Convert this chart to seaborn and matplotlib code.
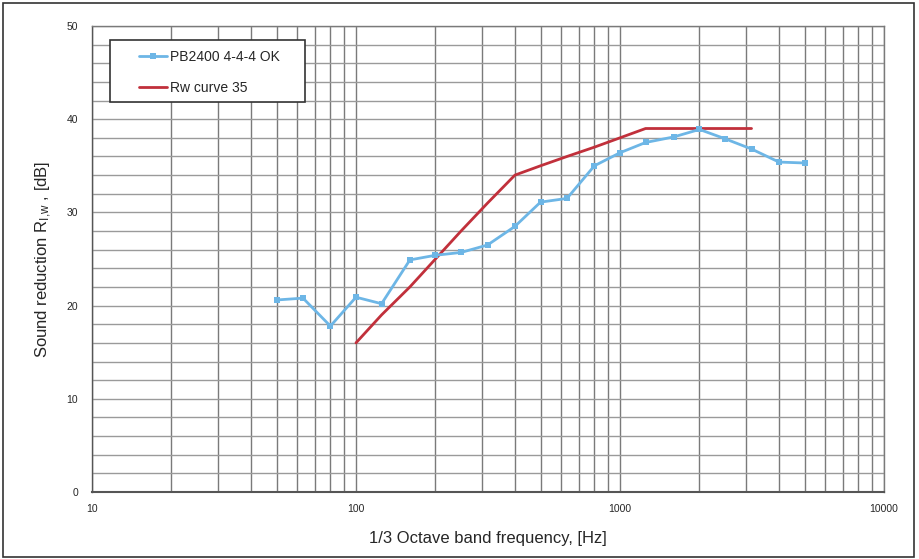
import numpy as np
import pandas as pd
import matplotlib
matplotlib.use('Agg')
import matplotlib.pyplot as plt
import seaborn as sns
from matplotlib.ticker import LogLocator, MultipleLocator, FixedLocator, FixedFormatter, NullFormatter
from matplotlib.patches import Rectangle

# measured 1/3 octave values
freq = [50, 63, 80, 100, 125, 160, 200, 250, 315, 400, 500, 630, 800,
        1000, 1250, 1600, 2000, 2500, 3150, 4000, 5000]
r_meas = [20.6, 20.8, 17.8, 20.9, 20.2, 24.9, 25.4, 25.7, 26.5, 28.5, 31.1, 31.5,
          35.0, 36.4, 37.5, 38.1, 38.9, 37.9, 36.8, 35.4, 35.3]

# reference curve shifted to Rw 35
ref_freq = [100, 125, 160, 200, 250, 315, 400, 500, 630, 800, 1000, 1250,
            1600, 2000, 2500, 3150]
r_ref = [16, 19, 22, 25, 28, 31, 34, 35, 36, 37, 38, 39, 39, 39, 39, 39]

meas_label = 'PB2400 4-4-4 OK'
ref_label = 'Rw curve 35'

sns.set_style('white')
plt.rcParams['font.family'] = ['Liberation Sans', 'DejaVu Sans']
plt.rcParams['mathtext.fontset'] = 'custom'
plt.rcParams['mathtext.rm'] = 'Liberation Sans'
plt.rcParams['mathtext.it'] = 'Liberation Sans'

fig = plt.figure(figsize=(9.19, 5.59), dpi=100)
ax = fig.add_axes([0.1001, 0.1199, 0.8618, 0.8336])

meas = pd.DataFrame({'f': freq, 'R': r_meas})
ref = pd.DataFrame({'f': ref_freq, 'R': r_ref})

sns.lineplot(data=meas, x='f', y='R', ax=ax, color='#6db6e6', linewidth=2,
             marker='s', markersize=4, markeredgewidth=0, label=meas_label, zorder=4)
sns.lineplot(data=ref, x='f', y='R', ax=ax, color='#c1303b', linewidth=2,
             label=ref_label, zorder=3)

ax.set_xscale('log')
ax.set_xlim(10, 10000)
ax.set_ylim(0, 50)
ax.xaxis.set_major_locator(FixedLocator([10, 100, 1000, 10000]))
ax.xaxis.set_major_formatter(FixedFormatter(['10', '100', '1000', '10000']))
ax.xaxis.set_minor_locator(LogLocator(base=10, subs=np.arange(2, 10)))
ax.xaxis.set_minor_formatter(NullFormatter())
ax.yaxis.set_major_locator(MultipleLocator(10))
ax.yaxis.set_minor_locator(MultipleLocator(2))

ax.grid(which='major', axis='x', color='#7a7a7a', linewidth=1)
ax.grid(which='minor', axis='x', color='#7a7a7a', linewidth=1)
ax.grid(which='both', axis='y', color='#9a9a9a', linewidth=1)
ax.set_axisbelow(True)

for s in ax.spines.values():
    s.set_color('#7a7a7a')
    s.set_linewidth(1)
ax.spines['left'].set_color('#555555')
ax.spines['bottom'].set_color('#555555')
ax.spines['bottom'].set_linewidth(1.5)

ax.tick_params(axis='both', which='both', direction='out', length=3, width=0.8,
               color='#555555', labelsize=7.5, pad=6)
ax.tick_params(axis='y', which='major', length=4)

ax.set_xlabel('1/3 Octave band frequency, [Hz]', fontsize=12, labelpad=12)
ax.set_ylabel(r'Sound reduction R$_{\mathrm{I{,}w}}$ , [dB]', fontsize=12, labelpad=9)

# legend entries without frame; box drawn separately for wider side padding
leg = ax.legend(loc='upper left', bbox_to_anchor=(0.0593, 0.9485), borderaxespad=0,
                fontsize=10, frameon=False, handlelength=2.0, handletextpad=0.2,
                borderpad=0, labelspacing=1.2)
ax.add_patch(Rectangle((0.0227, 0.837), 0.2463, 0.133, transform=ax.transAxes,
                       facecolor='white', edgecolor='#333333', linewidth=1.2, zorder=5))
leg.set_zorder(6)

fig.patches.append(Rectangle((0.003, 0.004), 0.992, 0.99, transform=fig.transFigure,
                             fill=False, edgecolor='#333333', linewidth=1.2))

fig.savefig('out.png', dpi=100)
